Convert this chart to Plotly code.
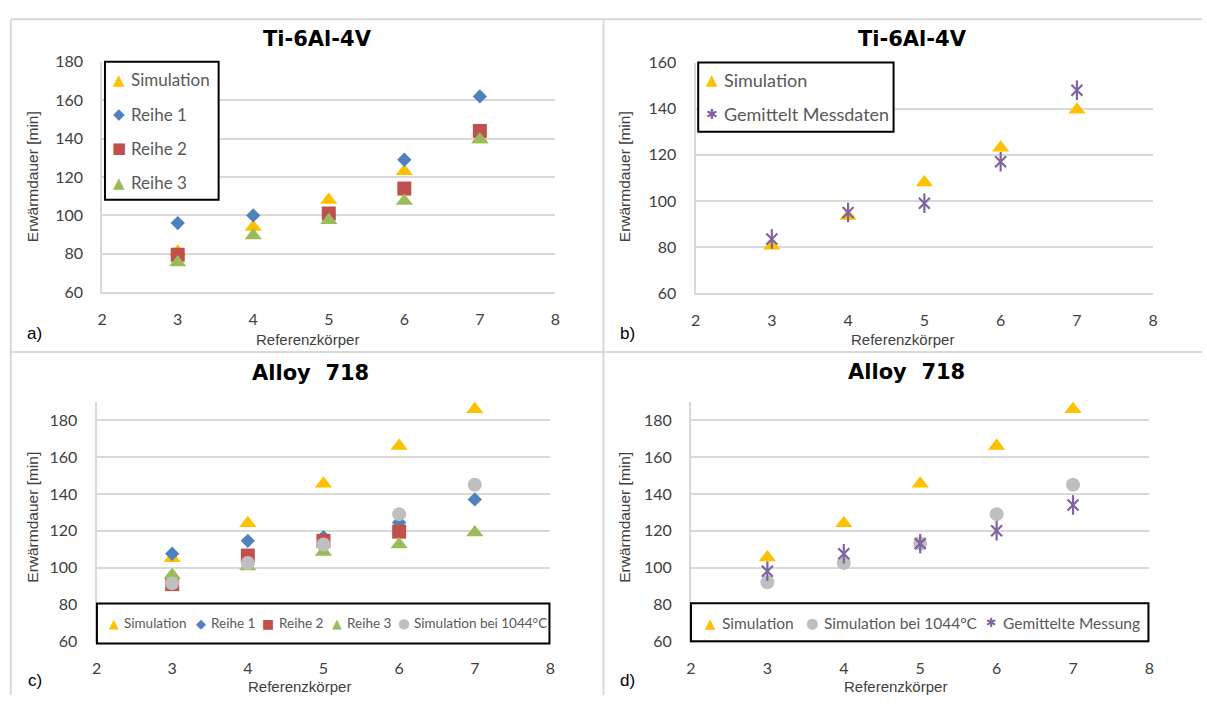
import plotly.graph_objects as go

W, H = 1207, 704

# ---------------- data ----------------
referenzkoerper = [3, 4, 5, 6, 7]
x_ticks = [2, 3, 4, 5, 6, 7, 8]

# a) Ti-6Al-4V
a_simulation = [81, 94, 108, 123, 139.5]
a_reihe1 = [96, 100, 100, 129, 162]
a_reihe2 = [79.5, None, 101, 114, 144]
a_reihe3 = [75.5, 89.5, 97.5, 107.5, 139.5]

# b) Ti-6Al-4V
b_simulation = [80.5, 93.5, 108, 123, 139.5]
b_gemittelt = [83.5, 95, 99, 117, 148]

# c) Alloy 718
c_simulation = [105, 124, 145.5, 166, 186]
c_reihe1 = [107.5, 114.5, 116.5, 124.5, 137]
c_reihe2 = [91, 106.5, 114.5, 119.5, None]
c_reihe3 = [96, 100.5, 108.5, 112.5, 119]
c_sim1044 = [91.5, 102.5, 112.5, 129, 145]

# d) Alloy 718
d_simulation = [105.5, 124, 145.5, 166, 186]
d_sim1044 = [92, 102.5, 113, 129, 145]
d_gemittelt = [98, 107.5, 113, 120, 134]

title_ti = "Ti-6Al-4V"
title_al = "Alloy  718"
y_title = "Erwärmdauer [min]"
x_title = "Referenzkörper"

YELLOW = "#FFC000"
BLUE = "#4F81BD"
RED = "#C0504D"
GREEN = "#9BBB59"
GRAY = "#BFBFBF"
PURPLE = "#8064A2"
GRID = "#D9D9D9"
TICK_COL = "#404040"
LEG_COL = "#595959"


def PX(x):
    return x / W


def PY(y):
    return 1 - y / H


fig = go.Figure()


def add_marker(xa, ya, x, y, name, color, symbol, size, lw=0):
    marker = dict(color=color, symbol=symbol, size=size)
    if lw:
        marker["line"] = dict(color=color, width=lw)
    fig.add_trace(go.Scatter(x=x, y=y, mode="markers", name=name, marker=marker,
                             xaxis=xa, yaxis=ya, showlegend=False, cliponaxis=False))


def add_asterisk(xa, ya, x, y, name):
    add_marker(xa, ya, x, y, name, PURPLE, "x-thin-open", 11, 2.2)
    add_marker(xa, ya, x, y, name, PURPLE, "line-ns-open", 14, 2.2)


# panel a
add_marker("x", "y", referenzkoerper, a_simulation, "Simulation", YELLOW, "triangle-up", 15)
add_marker("x", "y", referenzkoerper, a_reihe1, "Reihe 1", BLUE, "diamond", 11)
add_marker("x", "y", referenzkoerper, a_reihe2, "Reihe 2", RED, "square", 14)
add_marker("x", "y", referenzkoerper, a_reihe3, "Reihe 3", GREEN, "triangle-up", 15)
# panel b
add_marker("x2", "y2", referenzkoerper, b_simulation, "Simulation", YELLOW, "triangle-up", 15)
add_asterisk("x2", "y2", referenzkoerper, b_gemittelt, "Gemittelt Messdaten")
# panel c
add_marker("x3", "y3", referenzkoerper, c_simulation, "Simulation", YELLOW, "triangle-up", 15)
add_marker("x3", "y3", referenzkoerper, c_reihe1, "Reihe 1", BLUE, "diamond", 11)
add_marker("x3", "y3", referenzkoerper, c_reihe2, "Reihe 2", RED, "square", 14)
add_marker("x3", "y3", referenzkoerper, c_reihe3, "Reihe 3", GREEN, "triangle-up", 15)
add_marker("x3", "y3", referenzkoerper, c_sim1044, "Simulation bei 1044°C", GRAY, "circle", 14)
# panel d
add_marker("x4", "y4", referenzkoerper, d_simulation, "Simulation", YELLOW, "triangle-up", 15)
add_marker("x4", "y4", referenzkoerper, d_sim1044, "Simulation bei 1044°C", GRAY, "circle", 14)
add_asterisk("x4", "y4", referenzkoerper, d_gemittelt, "Gemittelte Messung")

TICKFONT = dict(family="Lato", size=16, color=TICK_COL)


def xaxis(x0, x1, anchor):
    return dict(domain=[PX(x0), PX(x1)], range=[2, 8], tickvals=x_ticks, anchor=anchor,
                showgrid=False, zeroline=False, showline=True, linecolor=GRID, linewidth=2,
                ticks="", tickfont=TICKFONT, ticklabelstandoff=12, fixedrange=True)


def yaxis(top_px, bot_px, rng, anchor):
    return dict(domain=[PY(bot_px), PY(top_px)], range=rng, tick0=60, dtick=20, anchor=anchor,
                showgrid=True, gridcolor=GRID, gridwidth=2, zeroline=False, showline=True,
                linecolor=GRID, linewidth=2, ticks="", tickfont=TICKFONT, ticklabelstandoff=14,
                fixedrange=True)


shapes = []
annotations = []

# panel frames
for (x0, y0, x1, y1) in [(5.8, 10, 5.8, 704), (603.5, 9.5, 603.5, 704), (5.8, 9.5, 1207, 9.5),
                         (5.8, 351.5, 1207, 351.5)]:
    shapes.append(dict(type="line", xref="paper", yref="paper", x0=PX(x0), x1=PX(x1),
                       y0=PY(y0), y1=PY(y1), line=dict(color=GRID, width=2), layer="below"))


def text(x, y, t, size, color="#404040", family="Liberation Sans", xanchor="center",
         angle=0, bold=False):
    annotations.append(dict(x=PX(x), y=PY(y), xref="paper", yref="paper", text=t,
                            showarrow=False, xanchor=xanchor, yanchor="middle", textangle=angle,
                            font=dict(family=family, size=size, color=color,
                                      weight="bold" if bold else "normal")))


# titles
text(315.5, 30, title_ti, 21, "#000000", "DejaVu Sans", bold=True)
text(915.5, 30, title_ti, 21, "#000000", "DejaVu Sans", bold=True)
text(307.7, 373, title_al, 21, "#000000", "DejaVu Sans", bold=True)
text(908.8, 372, title_al, 21, "#000000", "DejaVu Sans", bold=True)
# axis titles
for (x, y) in [(28, 171), (625, 171), (28, 521), (625, 521)]:
    text(x, y, y_title, 15.5, angle=-90)
for (x, y) in [(305, 339), (905.5, 339), (297, 695), (898, 695)]:
    text(x, y, x_title, 15)
# panel letters
for (x, y, t) in [(30, 332, "a)"), (628, 332, "b)"), (30, 689, "c)"), (628, 689, "d)")]:
    text(x, y, t, 17, "#000000")


# legends (boxes and entries)
def legend_box(x0, y0, x1, y1):
    shapes.append(dict(type="rect", xref="paper", yref="paper", x0=PX(x0), x1=PX(x1),
                       y0=PY(y1), y1=PY(y0), line=dict(color="#000000", width=2),
                       fillcolor="#FFFFFF", layer="above"))


GLYPH = {"tri": ("▲", 15), "dia": ("◆", 15), "sq": ("■", 15), "circ": ("●", 16), "ast": ("✱", 14)}


def legend_entry(kind, color, gx, tx, y, label, size, scale=1.0):
    g, gs = GLYPH[kind]
    text(gx, y, g, gs * scale, color, "DejaVu Sans")
    text(tx, y, label, size, LEG_COL, "Lato", xanchor="left")


legend_box(100.8, 53.3, 215.4, 195)
legend_entry("tri", YELLOW, 114.6, 125.4, 71.7, "Simulation", 17)
legend_entry("dia", BLUE, 114.6, 125.4, 107.3, "Reihe 1", 17)
legend_entry("sq", RED, 114.6, 125.4, 142.3, "Reihe 2", 17)
legend_entry("tri", GREEN, 114.6, 125.4, 177.3, "Reihe 3", 17)

legend_box(699, 54, 896, 125)
legend_entry("tri", YELLOW, 712.8, 723.2, 72.3, "Simulation", 18)
legend_entry("ast", PURPLE, 712.8, 723.2, 107.3, "Gemittelt Messdaten", 18)

legend_box(92.7, 610, 549, 651)
legend_entry("tri", YELLOW, 109.6, 118, 630.3, "Simulation", 13.5, 0.85)
legend_entry("dia", BLUE, 197.7, 205.8, 630.3, "Reihe 1", 13.5, 0.85)
legend_entry("sq", RED, 265.4, 274.2, 630.3, "Reihe 2", 13.5, 0.85)
legend_entry("tri", GREEN, 334.6, 343, 630.3, "Reihe 3", 13.5, 0.85)
legend_entry("circ", GRAY, 402.7, 410.8, 630.3, "Simulation bei 1044°C", 13.5, 0.85)

legend_box(691.7, 609.7, 1153, 648.7)
legend_entry("tri", YELLOW, 711.7, 721.3, 629.7, "Simulation", 15.5, 0.9)
legend_entry("circ", GRAY, 814.4, 824, 629.7, "Simulation bei 1044°C", 15.5, 0.9)
legend_entry("ast", PURPLE, 994.4, 1004, 629.7, "Gemittelte Messung", 15.5, 0.9)

fig.update_layout(
    width=W, height=H, margin=dict(l=0, r=0, t=0, b=0),
    paper_bgcolor="#FFFFFF", plot_bgcolor="#FFFFFF", showlegend=False,
    xaxis=xaxis(98, 555, "y"), yaxis=yaxis(53.3, 290, [60, 180], "x"),
    xaxis2=xaxis(696.3, 1157.8, "y2"), yaxis2=yaxis(54, 291, [60, 160], "x2"),
    xaxis3=xaxis(92.3, 550, "y3"), yaxis3=yaxis(402.7, 648.7, [60, 190], "x3"),
    xaxis4=xaxis(691.7, 1154, "y4"), yaxis4=yaxis(402.7, 648.7, [60, 190], "x4"),
    shapes=shapes, annotations=annotations,
)

fig.write_html(
    "out.html",
    config={"displayModeBar": False},
    post_script="document.body.style.margin='0px';document.body.style.padding='0px';"
                "document.body.style.overflow='hidden';",
)
